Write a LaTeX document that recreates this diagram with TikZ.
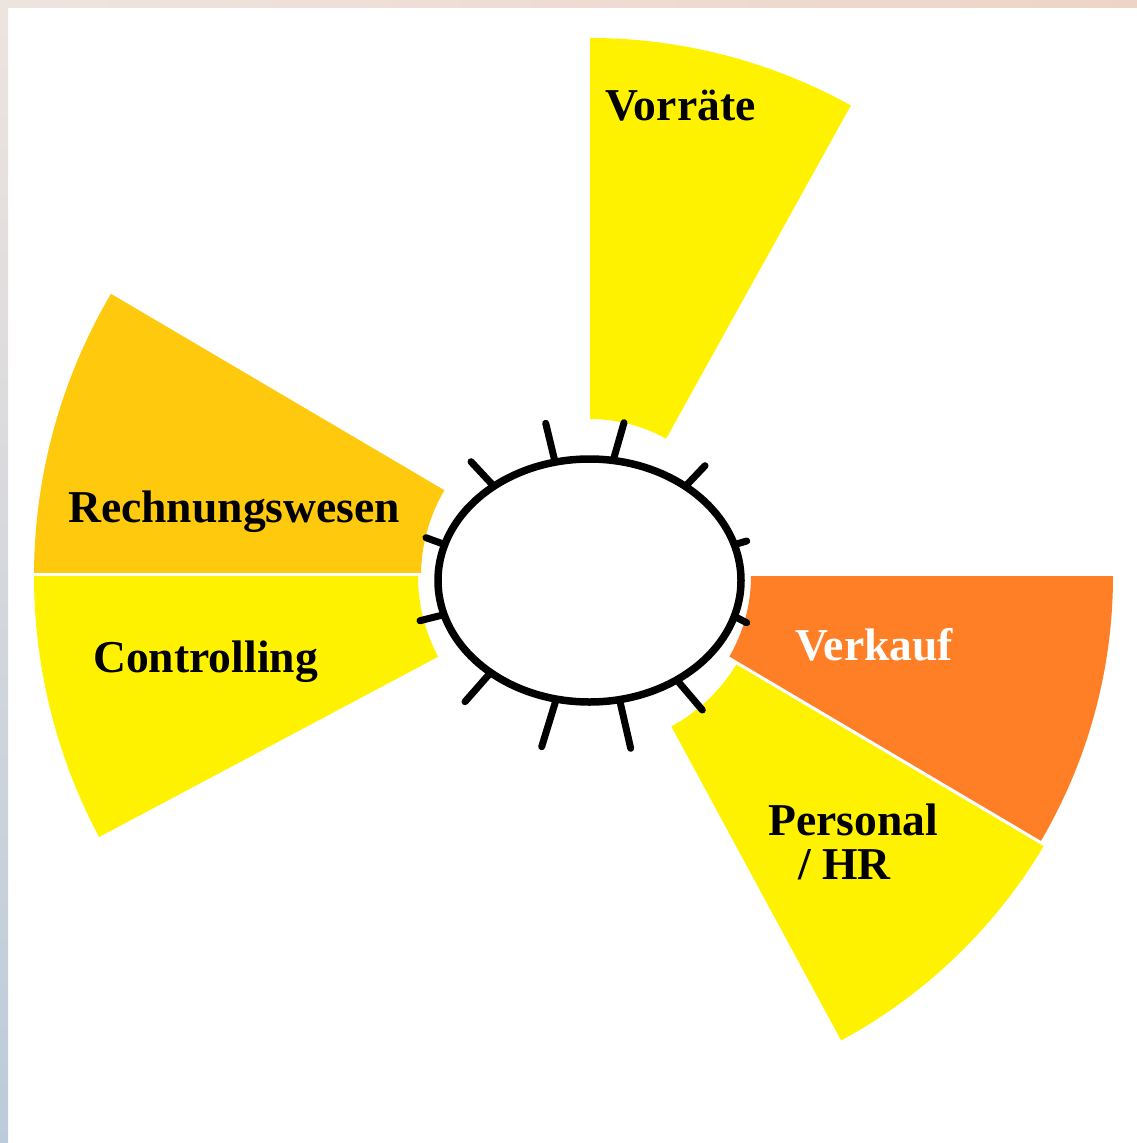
\documentclass[tikz,border=0pt]{standalone}
\usepackage{fontspec}
\setmainfont{Liberation Serif}
\definecolor{pyellow}{HTML}{FFF200}
\definecolor{pgold}{HTML}{FFC90E}
\definecolor{porange}{HTML}{FF7F27}
\definecolor{bordA}{HTML}{EEE4DF}
\definecolor{bordB}{HTML}{EED4C8}
\definecolor{bordC}{HTML}{E2CFC8}
\definecolor{bordD}{HTML}{BCCBDA}
\newcommand\annsec[5]{\fill[#1] ([shift={(590,576)}]#2:#5) arc[start angle=#2, end angle=#3, radius=#5] -- ([shift={(590,576)}]#3:#4) arc[start angle=#3, end angle=#2, radius=#4] -- cycle;}
\begin{document}
\begin{tikzpicture}[x=1pt,y=-1pt,
  lbl/.style={inner sep=0pt, anchor=base west, font=\fontsize{45.6}{52}\selectfont\bfseries},
  tick/.style={line width=7pt, line cap=round},
  gap/.style={white, line width=3pt}]
\useasboundingbox (0,0) rectangle (1137,1143);
\fill[white] (0,0) rectangle (1137,1143);
\shade[left color=bordA, right color=bordB] (0,0) rectangle (1137,7);
\shade[top color=bordA, middle color=bordC, bottom color=bordD] (0,0) rectangle (8,1143);
% sectors
\annsec{pyellow}{-61.0}{-90}{157}{538}
\annsec{pgold}{-149.5}{-180}{169}{556}
\annsec{pyellow}{-180}{-208}{172}{556}
\annsec{porange}{30.6}{0}{161}{523}
\annsec{pyellow}{61.6}{30.6}{171}{528}
\coordinate (c) at (590,576);
\coordinate (g1) at (20,574);
\coordinate (g2) at (440,574);
\coordinate (g3) at ([shift={(590,576)}]30.6:150);
\coordinate (g4) at ([shift={(590,576)}]30.6:560);
\draw[gap] (g1) -- (g2);
\draw[gap] (g3) -- (g4);
% hub
\draw[line width=7.5pt, fill=white] (589.5,580.5) ellipse [x radius=151.5, y radius=121.5];
% ticks
\draw[tick] (545.7,423.3) -- (555,461.7);
\draw[tick] (624,422.7) -- (613.3,460);
\draw[tick] (705,465.7) -- (686.7,485);
\draw[tick] (746.7,541) -- (736.7,544);
\draw[tick] (746.7,622.7) -- (735,616.7);
\draw[tick] (702.3,710) -- (678.3,681.7);
\draw[tick] (630.7,748.3) -- (620,701.7);
\draw[tick] (541.7,746.7) -- (556,700);
\draw[tick] (465,701.7) -- (490,673.3);
\draw[tick] (420,620.7) -- (442.7,615);
\draw[tick] (426,537.7) -- (443.3,544);
\draw[tick] (471,461.7) -- (492.7,485);
% labels
\node[lbl] (vorraete) at (605,120) {Vorräte};
\node[lbl] (rechnung) at (68,522) {Rechnungswesen};
\node[lbl] (controlling) at (93,672) {Controlling};
\node[lbl, text=white] (verkauf) at (795,660) {Verkauf};
\node[lbl] (personal) at (768,835) {Personal};
\node[lbl] (hr) at (798,879) {/ HR};
\end{tikzpicture}
\end{document}
